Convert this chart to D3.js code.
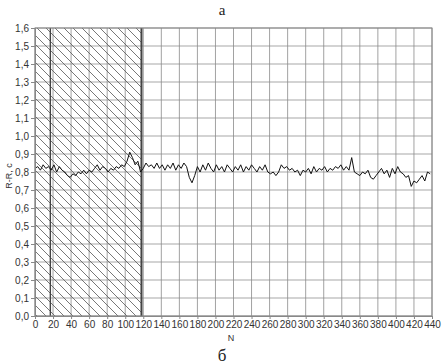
<!DOCTYPE html>
<html><head><meta charset="utf-8">
<script src="https://cdn.jsdelivr.net/npm/d3@7"></script>
<style>body{margin:0;background:#fff}svg{display:block}</style>
</head><body>
<script>
// Data (N sampled every 3)
const stepN = 3;
const values = [
0.82,0.83,0.81,0.84,0.82,0.83,0.81,0.84,0.80,0.83,
0.81,0.80,0.78,0.77,0.79,0.78,0.80,0.79,0.81,0.79,
0.81,0.80,0.82,0.84,0.81,0.83,0.82,0.80,0.82,0.81,
0.83,0.82,0.84,0.83,0.86,0.91,0.88,0.84,0.86,0.80,
0.82,0.85,0.83,0.84,0.82,0.85,0.82,0.84,0.81,0.84,
0.82,0.85,0.81,0.84,0.82,0.85,0.83,0.77,0.74,0.78,
0.83,0.80,0.84,0.81,0.85,0.82,0.80,0.84,0.81,0.83,
0.80,0.84,0.82,0.80,0.83,0.81,0.84,0.80,0.83,0.81,
0.84,0.82,0.80,0.83,0.81,0.84,0.80,0.79,0.80,0.78,
0.80,0.84,0.82,0.83,0.81,0.82,0.80,0.81,0.78,0.81,
0.80,0.82,0.79,0.83,0.80,0.82,0.81,0.83,0.80,0.82,
0.81,0.83,0.82,0.84,0.81,0.83,0.81,0.88,0.80,0.79,
0.78,0.80,0.79,0.81,0.77,0.76,0.78,0.80,0.82,0.79,
0.81,0.77,0.82,0.79,0.83,0.80,0.79,0.77,0.78,0.72,
0.75,0.74,0.76,0.78,0.75,0.80,0.79
];
const xTicks = [0,20,40,60,80,100,120,140,160,180,200,220,240,260,280,300,320,340,360,380,400,420,440];
const yTicks = [0,0.1,0.2,0.3,0.4,0.5,0.6,0.7,0.8,0.9,1.0,1.1,1.2,1.3,1.4,1.5,1.6];
const hatchRange = [0, 118];
const markerN = [17, 118];
const titleTop = "а", titleBottom = "б", xLabel = "N", yLabel = "R-R, c";

const W = 445, H = 364;
const m = {l:35, r:13, t:28, b:48};
const svg = d3.select("body").append("svg").attr("width", W).attr("height", H);
const x = d3.scaleLinear().domain([0,440]).range([m.l, W - m.r]);
const y = d3.scaleLinear().domain([0,1.6]).range([H - m.b, m.t]);
const font = "'Liberation Sans Narrow','Liberation Sans',Arial,sans-serif";

// grid
svg.append("g").selectAll("line").data(yTicks).join("line")
  .attr("x1", x(0)).attr("x2", x(440)).attr("y1", d=>y(d)).attr("y2", d=>y(d))
  .attr("stroke", "#c4c4c4").attr("stroke-width", 1.6);
svg.append("g").selectAll("line").data(xTicks).join("line")
  .attr("y1", y(0)).attr("y2", y(1.6)).attr("x1", d=>x(d)).attr("x2", d=>x(d))
  .attr("stroke", "#8a8a8a").attr("stroke-width", 0.8);

// hatch
const defs = svg.append("defs");
const pat = defs.append("pattern").attr("id","hatch").attr("patternUnits","userSpaceOnUse")
  .attr("width", 9).attr("height", 9);
pat.append("path").attr("d","M-2,-2 L11,11 M-2,7 L2,11 M7,-2 L11,2")
  .attr("stroke","#555").attr("stroke-width",0.8).attr("fill","none");
svg.append("rect").attr("x", x(hatchRange[0])).attr("y", y(1.6))
  .attr("width", x(hatchRange[1]) - x(hatchRange[0])).attr("height", y(0) - y(1.6))
  .attr("fill","url(#hatch)");
svg.append("g").selectAll("line").data(markerN).join("line")
  .attr("y1", y(0)).attr("y2", y(1.6)).attr("x1", d=>x(d)).attr("x2", d=>x(d))
  .attr("stroke", "#444").attr("stroke-width", (d,i)=> i ? 2 : 1.4);

// border
svg.append("rect").attr("x", x(0)).attr("y", y(1.6)).attr("width", x(440)-x(0)).attr("height", y(0)-y(1.6))
  .attr("fill","none").attr("stroke","#888").attr("stroke-width",1);

// line
const line = d3.line().x((d,i)=>x(i*stepN)).y(d=>y(d));
svg.append("path").datum(values).attr("d", line).attr("fill","none")
  .attr("stroke","#111").attr("stroke-width",1);

// axes
const fmt = d => d3.format(".1f")(d).replace(".", ",");
const ya = svg.append("g").attr("transform",`translate(${x(0)},0)`)
  .call(d3.axisLeft(y).tickValues(yTicks).tickFormat(fmt).tickSize(4).tickPadding(2));
const xa = svg.append("g").attr("transform",`translate(0,${y(0)})`)
  .call(d3.axisBottom(x).tickValues(xTicks).tickFormat(d3.format("d")).tickSize(3).tickPadding(2));
[ya, xa].forEach(g => {
  g.select(".domain").attr("stroke","#888");
  g.selectAll(".tick line").attr("stroke","#888");
  g.selectAll("text").attr("font-family", font).attr("font-size", 10).attr("fill","#333");
});

svg.append("text").attr("x", 231).attr("y", 341).attr("text-anchor","middle")
  .attr("font-family", font).attr("font-size", 9).attr("fill","#333").text(xLabel);
svg.append("text").attr("transform", "translate(12,176) rotate(-90)").attr("text-anchor","middle")
  .attr("font-family", font).attr("font-size", 9).attr("fill","#333").text(yLabel);
svg.append("text").attr("x", 222).attr("y", 15).attr("text-anchor","middle")
  .attr("font-family","'Liberation Serif','Times New Roman',serif").attr("font-size", 15).attr("fill","#222").text(titleTop);
svg.append("text").attr("x", 222).attr("y", 361).attr("text-anchor","middle")
  .attr("font-family","'Liberation Serif','Times New Roman',serif").attr("font-size", 17).attr("fill","#222").text(titleBottom);
</script>
</body></html>
